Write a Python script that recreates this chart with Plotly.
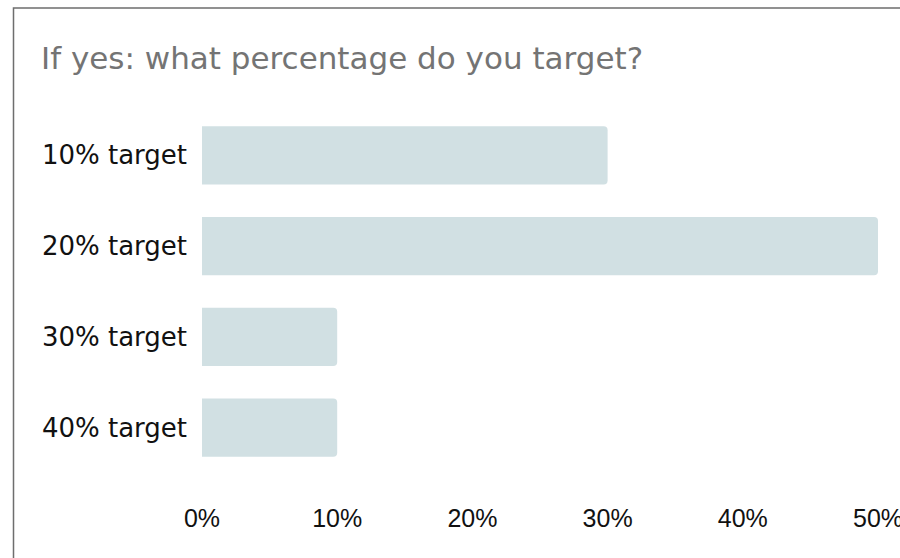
import plotly.graph_objects as go

# Survey answers: share of respondents per target level
categories = ["10% target", "20% target", "30% target", "40% target"]
shares = [0.30, 0.50, 0.10, 0.10]
tick_values = [0, 0.1, 0.2, 0.3, 0.4, 0.5]
tick_labels = ["0%", "10%", "20%", "30%", "40%", "50%"]

W, H = 900, 558
L, R, T, B = 202, 22, 109.6, 85.1
PW, PH = W - L - R, H - T - B

fig = go.Figure(
    go.Bar(
        x=shares,
        y=categories,
        orientation="h",
        marker=dict(color="#d1e0e3", line=dict(width=0)),
        hoverinfo="skip",
    )
)

fig.update_layout(
    width=W,
    height=H,
    margin=dict(l=L, r=R, t=T, b=B, pad=0, autoexpand=False),
    paper_bgcolor="white",
    plot_bgcolor="white",
    showlegend=False,
    bargap=0.358,
    barcornerradius=4,
    title=dict(
        text="If yes: what percentage do you target?",
        font=dict(family="DejaVu Sans", size=31, color="#747474"),
        xref="container",
        yref="container",
        x=41 / W,
        xanchor="left",
        y=1 - 58 / H,
        yanchor="middle",
    ),
    xaxis=dict(
        range=[0, 0.5],
        tickvals=tick_values,
        ticktext=tick_labels,
        showgrid=False,
        zeroline=False,
        showline=False,
        ticks="outside",
        ticklen=23,
        tickcolor="rgba(0,0,0,0)",
        ticklabeloverflow="allow",
        automargin=False,
        tickfont=dict(family="Liberation Sans", size=25, color="#111111"),
        fixedrange=True,
    ),
    yaxis=dict(
        categoryorder="array",
        categoryarray=categories,
        autorange="reversed",
        showgrid=False,
        zeroline=False,
        showline=False,
        ticks="",
        ticklabelstandoff=14,
        automargin=False,
        tickfont=dict(family="DejaVu Sans", size=26, color="#111111"),
        fixedrange=True,
    ),
)

# Frame around the chart (right and bottom edges fall outside the page)
fig.add_shape(
    type="rect",
    xref="paper",
    yref="paper",
    x0=(13.5 - L) / PW,
    x1=(W + 20 - L) / PW,
    y0=-(B + 20) / PH,
    y1=1 + (T - 7.5) / PH,
    line=dict(color="#6e6e6e", width=1.5),
    fillcolor="rgba(0,0,0,0)",
    layer="below",
)

fig.write_html("out.html", config={"displayModeBar": False})
